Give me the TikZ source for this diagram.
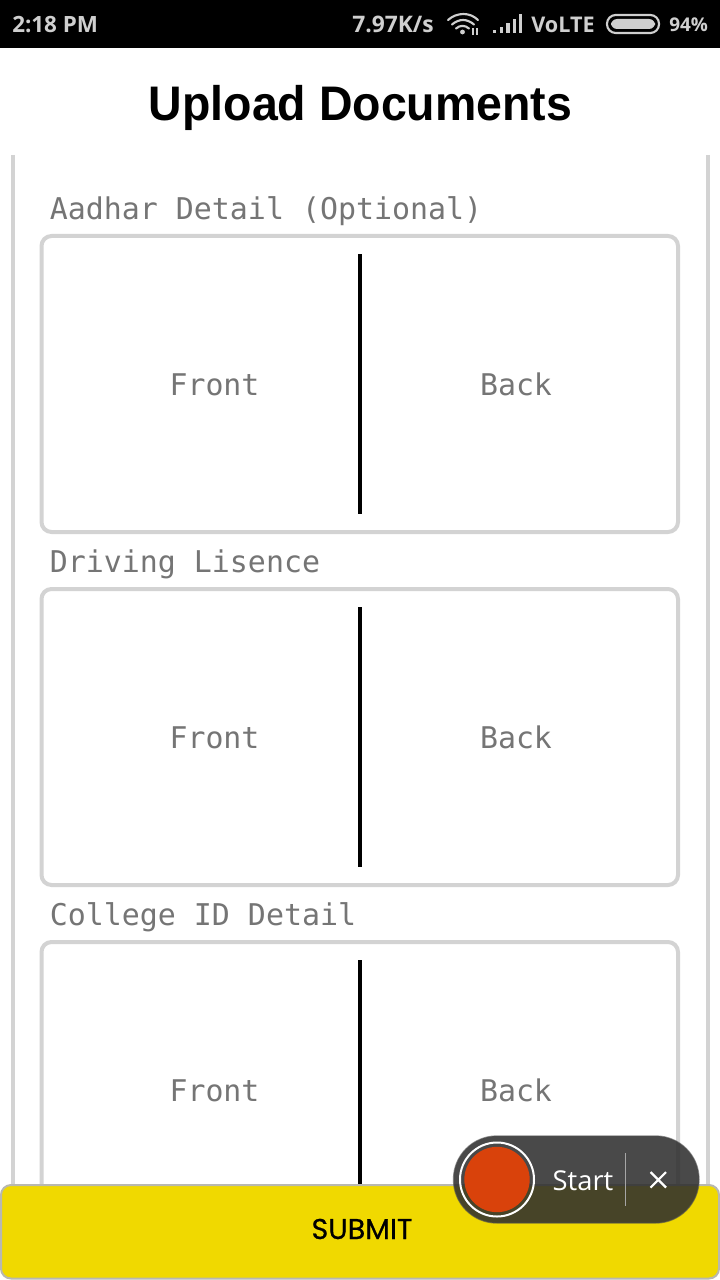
\documentclass[tikz,border=0pt]{standalone}
\usepackage{fontspec}
\setmainfont[FakeStretch=0.957]{Liberation Sans}
\newfontfamily\monof{DejaVu Sans Mono}
\newfontfamily\uif{Open Sans}
\newfontfamily\subf[FakeBold=0.6]{Poppins}
\definecolor{grayline}{HTML}{D3D3D3}
\definecolor{monotext}{HTML}{757575}
\definecolor{statusgray}{HTML}{CFCFCF}
\definecolor{subyellow}{HTML}{F0D900}
\definecolor{subedge}{HTML}{B8B8B0}
\definecolor{recred}{HTML}{D9420B}
\definecolor{pilldark}{HTML}{2E2E2E}
\tikzset{
  cardbox/.style={draw=grayline,line width=3pt,rounded corners=7.5pt,fill=white},
  sideline/.style={draw=grayline,line width=3pt},
  divider/.style={draw=black,line width=3pt},
  cardlabel/.style={anchor=base west,inner sep=0pt,text=monotext,font=\monof\fontsize{22.45}{26}\selectfont},
  sidelabel/.style={anchor=base,inner sep=0pt,text=monotext,font=\monof\fontsize{22.4}{26}\selectfont},
  statustext/.style={inner sep=0pt,text=statusgray,font=\uif\bfseries\fontsize{16.8}{20}\selectfont},
  icon/.style={draw=statusgray,line width=1.6pt},
}
\begin{document}
\begin{tikzpicture}[x=0.75pt,y=-0.75pt]
\useasboundingbox (0,0) rectangle (720,1280);
\fill[white] (0,0) rectangle (720,1280);
% status bar
\fill[black] (0,0) rectangle (720,48);
\node[statustext,anchor=base west] (clock) at (12,33) {2:18 PM};
\node[statustext,anchor=base west,font=\uif\bfseries\fontsize{17.1}{20}\selectfont] (speed) at (352,33) {7.97K/s};
\node[statustext,anchor=base west,font=\uif\bfseries\fontsize{16.2}{20}\selectfont] (volte) at (531,33) {VoLTE};
\node[statustext,anchor=base west,font=\uif\bfseries\fontsize{14.2}{18}\selectfont] (batt) at (669,32) {94\%};
% wifi
\draw[icon,line cap=round] (448,20) .. controls (457,12) and (470,12) .. (478,20);
\draw[icon,line cap=round] (452,24.5) .. controls (459,18.5) and (467,18.5) .. (474,24.5);
\draw[icon,line cap=round] (456,28.5) .. controls (460,25) and (465,25) .. (469,28.5);
\fill[statusgray] (462.5,32) circle (2.4);
\fill[statusgray] (472,28) rectangle (474,35);
\fill[statusgray] (476,28) rectangle (478,35);
% signal
\foreach \xx/\yy in {492.5/30,499.5/27,506/23.5,512.5/19.5,518.5/14.5}{
  \fill[statusgray] (\xx,\yy) rectangle ++(3.8,33.5-\yy);
}
% battery
\draw[icon,rounded corners=6.5pt] (607,15) rectangle (659,33);
\fill[statusgray,rounded corners=4.5pt] (611,19) rectangle (655,29);
% title
\node[inner sep=0pt,anchor=base,font=\bfseries\fontsize{36.4}{42}\selectfont] (title) at (360.5,121) {Upload Documents};
% outer side lines
\draw[sideline] (12.5,155) -- (12.5,1190);
\draw[sideline] (707.5,155) -- (707.5,1190);
% cards
\draw[cardbox] (41.5,236) rectangle (678,532);
\draw[cardbox] (41.5,589) rectangle (678,885);
\draw[cardbox] (41.5,942) rectangle (678,1238);
\draw[divider] (360,254) -- (360,514);
\draw[divider] (360,607) -- (360,867);
\draw[divider] (360,960) -- (360,1220);
\node[cardlabel] (l1) at (49.5,219.5) {Aadhar Detail (Optional)};
\node[cardlabel] (l2) at (49.5,572) {Driving Lisence};
\node[cardlabel] (l3) at (49.5,925) {College ID Detail};
\node[sidelabel] (f1) at (214.5,395) {Front};
\node[sidelabel] (b1) at (516,395) {Back};
\node[sidelabel] (f2) at (214.5,748) {Front};
\node[sidelabel] (b2) at (516,748) {Back};
\node[sidelabel] (f3) at (214.5,1101) {Front};
\node[sidelabel] (b3) at (516,1101) {Back};
% submit
\draw[draw=subedge,line width=1.5pt,fill=subyellow,rounded corners=7.5pt] (1,1185) rectangle (719,1278.5);
\node[inner sep=0pt,anchor=base,font=\subf\fontsize{21.5}{25}\selectfont] (submit) at (362,1239) {SUBMIT};
% recorder pill
\draw[draw=black!70,draw opacity=.6,line width=1pt,fill=pilldark,fill opacity=.87,rounded corners=32.5pt] (453.5,1136) rectangle (699,1223);
\node[circle,draw=white,line width=1.5pt,minimum size=55.5pt,inner sep=0pt] (ring) at (497,1179.5) {};
\node[circle,fill=recred,minimum size=49pt,inner sep=0pt] (rec) at (497,1179.5) {};
\node[inner sep=0pt,anchor=base,text=white,font=\uif\fontsize{20.5}{25}\selectfont] (start) at (583,1190.5) {Start};
\draw[white!65!black,line width=.6pt] (625.5,1153) -- (625.5,1206);
\draw[white,line width=1.6pt] (650.5,1172) -- (666,1187.5) (666,1172) -- (650.5,1187.5);
\end{tikzpicture}
\end{document}
